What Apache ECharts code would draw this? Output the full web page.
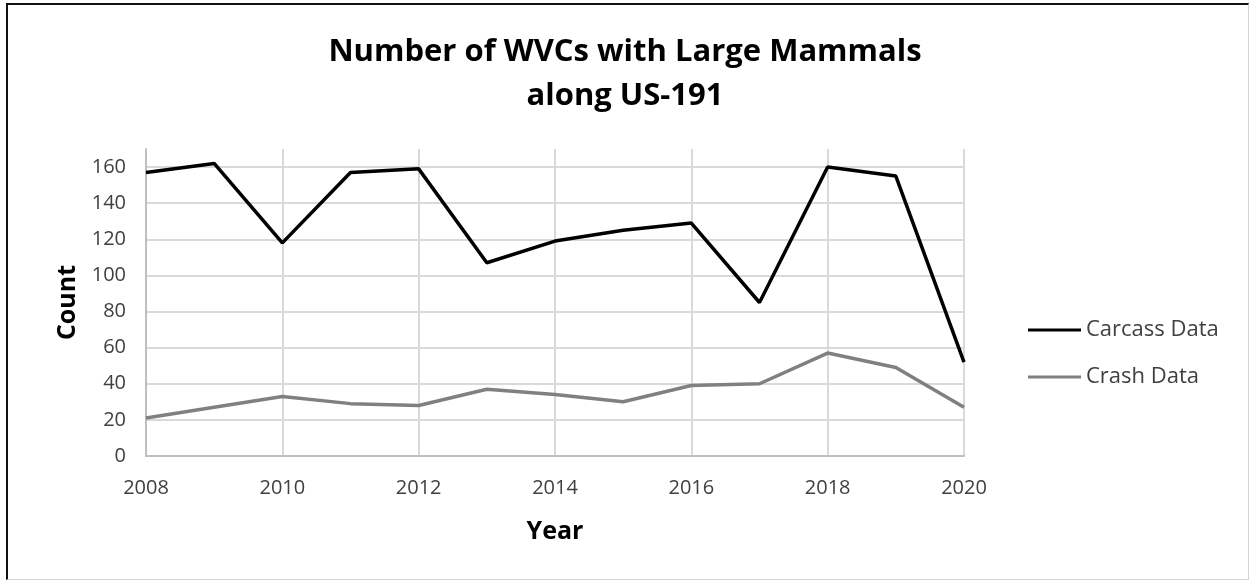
<!DOCTYPE html>
<html>
<head>
<meta charset="utf-8">
<script src="https://cdn.jsdelivr.net/npm/echarts@6/dist/echarts.min.js"></script>
<style>
  html, body { margin: 0; padding: 0; background: #fff; overflow: hidden; }
  #frame { position: absolute; left: 6px; top: 3px; width: 1240px; height: 574px;
           border-left: 2px solid #111; border-top: 2px solid #111;
           border-right: 1px solid #d4d4d4; border-bottom: 1px solid #d4d4d4; }
  #chart { position: absolute; left: -8px; top: -5px; width: 1250px; height: 581px; }
</style>
</head>
<body>
<div id="frame"><div id="chart"></div></div>
<script>
const titleText = 'Number of WVCs with Large Mammals\nalong US-191';
const years = [2008, 2009, 2010, 2011, 2012, 2013, 2014, 2015, 2016, 2017, 2018, 2019, 2020];
const carcassData = [157, 162, 118, 157, 159, 107, 119, 125, 129, 85, 160, 155, 52];
const crashData = [21, 27, 33, 29, 28, 37, 34, 30, 39, 40, 57, 49, 27];
const seriesNames = ['Carcass Data', 'Crash Data'];
const xAxisName = 'Year';
const yAxisName = 'Count';

const FONT = 'Open Sans';
const gridColors = ['#d9d9d9','#d9d9d9','#d9d9d9','#d9d9d9','#d9d9d9','#d9d9d9','#d9d9d9','#d9d9d9','#d9d9d9','rgba(0,0,0,0)'];

const chart = echarts.init(document.getElementById('chart'));
chart.setOption({
  animation: false,
  backgroundColor: 'transparent',
  title: {
    text: titleText,
    left: 'center',
    top: 25,
    textStyle: { fontFamily: FONT, fontWeight: 'bold', fontSize: 31, lineHeight: 44, color: '#000' }
  },
  legend: {
    orient: 'vertical',
    left: 1023,
    top: 313,
    icon: 'rect',
    itemWidth: 53,
    itemHeight: 3,
    itemGap: 23,
    data: seriesNames,
    textStyle: { fontFamily: FONT, fontSize: 22, lineHeight: 24, color: '#404040' }
  },
  grid: { left: 146, right: 286, top: 149, bottom: 125, containLabel: false },
  xAxis: {
    type: 'value',
    min: 2008, max: 2020, interval: 2,
    name: xAxisName,
    nameLocation: 'middle',
    nameGap: 63,
    nameTextStyle: { fontFamily: FONT, fontWeight: 'bold', fontSize: 25, color: '#000' },
    axisLine: { show: true, lineStyle: { color: '#bfbfbf', width: 2 } },
    axisTick: { show: false },
    axisLabel: { formatter: v => String(v), fontFamily: FONT, fontSize: 20, color: '#404040', margin: 22 },
    splitLine: { show: true, lineStyle: { color: '#d9d9d9', width: 2 } }
  },
  yAxis: {
    type: 'value',
    min: 0, max: 170, interval: 20,
    name: yAxisName,
    nameLocation: 'middle',
    nameGap: 66,
    nameTextStyle: { fontFamily: FONT, fontWeight: 'bold', fontSize: 25, color: '#000' },
    axisLine: { show: true, lineStyle: { color: '#bfbfbf', width: 2 } },
    axisTick: { show: false },
    axisLabel: { fontFamily: FONT, fontSize: 20, color: '#404040', margin: 20, showMaxLabel: false },
    splitLine: { show: true, lineStyle: { color: gridColors, width: 2 } }
  },
  series: [
    {
      name: seriesNames[0], type: 'line', symbol: 'none',
      data: years.map((y, i) => [y, carcassData[i]]),
      lineStyle: { color: '#000', width: 3.5 }, itemStyle: { color: '#000' }
    },
    {
      name: seriesNames[1], type: 'line', symbol: 'none',
      data: years.map((y, i) => [y, crashData[i]]),
      lineStyle: { color: '#808080', width: 3.5 }, itemStyle: { color: '#808080' }
    }
  ]
});
</script>
</body>
</html>
